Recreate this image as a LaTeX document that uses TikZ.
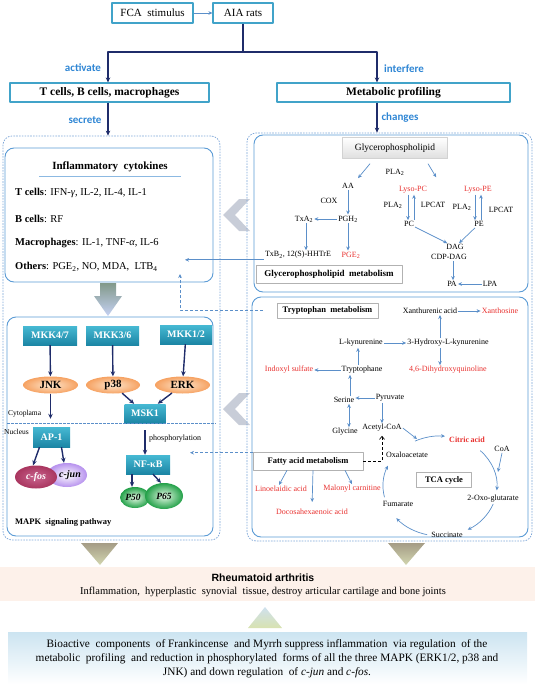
\documentclass[tikz,border=0pt]{standalone}
\usepackage{fontspec}
\setmainfont{Liberation Serif}
\newfontfamily\calfont{Carlito}
\newfontfamily\arialfont{Liberation Sans}
\usetikzlibrary{arrows.meta,shapes.geometric,calc}
\definecolor{boxblue}{HTML}{41A3C9}
\definecolor{navy}{HTML}{1F2C6A}
\definecolor{lineblue}{HTML}{5B8FC9}
\definecolor{panelblue}{HTML}{5B9BD5}
\definecolor{dashblue}{HTML}{7EA6D8}
\definecolor{labblue}{HTML}{2F86D4}
\definecolor{metred}{HTML}{E8312F}
\definecolor{kintop}{HTML}{46B9D3}
\definecolor{kinbot}{HTML}{1C86A5}
\definecolor{chevgray}{HTML}{C8CDD8}
\definecolor{orin}{HTML}{FDE5CC}
\definecolor{orout}{HTML}{F6A262}
\definecolor{fosin}{HTML}{C9638E}
\definecolor{fosout}{HTML}{A9365F}
\definecolor{junout}{HTML}{B792EE}
\definecolor{pin}{HTML}{E6FAE6}
\definecolor{pout}{HTML}{22A048}
\definecolor{arrtop}{HTML}{82998A}
\definecolor{arrbot}{HTML}{C6D2F4}
\definecolor{tritop}{HTML}{A59C86}
\definecolor{tribot}{HTML}{D2D6B0}
\definecolor{uptop}{HTML}{CFE1EE}
\definecolor{upbot}{HTML}{D8E2B0}
\definecolor{rafill}{HTML}{FDF1EA}
\definecolor{sumtop}{HTML}{CCE4F1}
\newcommand{\fsz}[1]{\fontsize{#1}{#1}\selectfont}
\tikzset{
  topbox/.style={draw=boxblue,line width=1.1pt,minimum height=20pt,inner sep=1pt,font=\fsz{11}},
  cellbox/.style={topbox,minimum height=19pt,font=\fsz{11.5}\bfseries},
  navyarr/.style={draw=navy,line width=1.4pt,-{Stealth[length=5pt,width=4.5pt]}},
  lbarr/.style={draw=lineblue,line width=.7pt,-{Stealth[length=4pt,width=3.6pt]}},
  steplab/.style={font=\calfont\bfseries\fsz{11},text=labblue,inner sep=0pt},
  outerpanel/.style={draw=dashblue,line width=.7pt,dash pattern=on 1.6pt off 1.2pt,rounded corners=9pt,inner sep=0pt},
  innerpanel/.style={draw=panelblue,line width=.9pt,rounded corners=9pt,inner sep=0pt},
  kinase/.style={top color=kintop,bottom color=kinbot,text=white,font=\fsz{10}\bfseries,minimum height=19pt,inner sep=0pt},
  mapk/.style={ellipse,inner color=orin,outer color=orout,font=\fsz{11}\bfseries,minimum width=55pt,minimum height=17pt,inner sep=0pt},
  met/.style={font=\fsz{8},inner sep=1pt},
  redmet/.style={met,text=metred},
  titlebox/.style={draw=gray!60,line width=.6pt,fill=white,font=\fsz{8.5}\bfseries,inner sep=0pt},
  flowdash/.style={draw=lineblue,line width=.7pt,dash pattern=on 3pt off 2pt,-{Stealth[length=4pt,width=3.6pt]}},
}
\begin{document}
\begin{tikzpicture}[x=1pt,y=-1pt,line join=round]
\useasboundingbox (0,0) rectangle (535,685);

% stimulus and first split
\node[topbox,minimum width=81pt] (fca) at (152.5,13) {FCA\ \ stimulus};
\node[topbox,minimum width=60pt] (aia) at (243,13) {AIA rats};
\draw[lbarr] (fca) -- (aia);
\coordinate (split) at (243,52);
\node[cellbox,minimum width=199pt] (cells) at (109.5,92.5) {T cells, B cells, macrophages};
\node[cellbox,minimum width=233pt] (profile) at (393.5,92.5) {Metabolic profiling};
\draw[navy,line width=1.4pt] (aia) -- (split);
\draw[navyarr] (split) -| ([xshift=-1.5pt]cells.north);
\draw[navyarr] (split) -| ([xshift=-16.5pt]profile.north);
\node[steplab] (activate) at (83,68) {activate};
\node[steplab] (interfere) at (404,69) {interfere};
\node[steplab] (secrete) at (85,120) {secrete};
\node[steplab] (changes) at (400,118) {changes};

\fill[chevgray] (250,199) -- (239,199) -- (223,215) -- (239,231) -- (250,231) -- (235,215) -- cycle;
\fill[chevgray] (250,393) -- (239,393) -- (223,409) -- (239,425) -- (250,425) -- (235,409) -- cycle;

\node[outerpanel,minimum width=217pt,minimum height=404pt] (leftpanel) at (111.5,338) {};
\node[outerpanel,minimum width=285pt,minimum height=408pt] (rightpanel) at (389.5,337) {};
\draw[navyarr] ([xshift=-1.5pt]cells.south) -- ([xshift=-1.5pt]cells.south |- leftpanel.north);
\draw[navyarr] ([xshift=-16.5pt]profile.south) -- ([xshift=-16.5pt]profile.south |- rightpanel.north);

% cytokines
\node[innerpanel,minimum width=208pt,minimum height=134pt] (cyto) at (109,215) {};
\node[font=\fsz{11}\bfseries,inner sep=1pt] (cytotitle) at (110,167) {Inflammatory\ \ cytokines};
\draw[panelblue!70,line width=1pt] ($(cytotitle.south west)+(-12,3)$) -- ($(cytotitle.south east)+(12,3)$);
\node[anchor=west,font=\fsz{10.5},inner sep=0pt] (tline) at (15,193) {\textbf{T cells}: IFN-\textit{γ}, IL-2, IL-4, IL-1};
\node[anchor=west,font=\fsz{10.5},inner sep=0pt] (bline) at (15,219) {\textbf{B cells}: RF};
\node[anchor=west,font=\fsz{10.5},inner sep=0pt] (mline) at (15,243) {\textbf{Macrophages}: IL-1, TNF-\textit{α}, IL-6};
\node[anchor=west,font=\fsz{10.5},inner sep=0pt] (oline) at (15,267) {\textbf{Others}: PGE\textsubscript{2}, NO, MDA,\ \ LTB\textsubscript{4}};
\shade[top color=arrtop,bottom color=arrbot] (100,283) -- (116,283) -- (116,296) -- (122,296) -- (108,316) -- (94,296) -- (100,296) -- cycle;

% MAPK
\node[innerpanel,minimum width=206pt,minimum height=219pt] (mapkbox) at (110,426.5) {};
\node[kinase,minimum width=54pt] (mkk47) at (50,335.5) {MKK4/7};
\node[kinase,minimum width=53pt] (mkk36) at (112.5,335.5) {MKK3/6};
\node[kinase,minimum width=52pt] (mkk12) at (186,334.5) {MKK1/2};
\node[mapk] (jnk) at (50.5,385) {JNK};
\node[mapk,minimum width=54pt] (p38) at (113,385) {p38};
\node[mapk] (erk) at (182.5,385) {ERK};
\node[kinase,minimum width=41pt] (msk) at (145,413.5) {MSK1};
\node[kinase,minimum width=37pt,minimum height=20pt] (ap1) at (51.5,437) {AP-1};
\node[kinase,minimum width=44pt] (nfkb) at (148,464.5) {NF-κB};
\draw[navyarr] (mkk47) -- (jnk);
\draw[navyarr] (mkk36) -- (p38);
\draw[navyarr] (mkk12) -- (erk);
\draw[navyarr] (p38) -- (msk);
\draw[navyarr] (erk) -- (msk);
\draw[navyarr,shorten >=8pt] (jnk) -- (jnk |- ap1.north);
\draw[navyarr,shorten <=7pt] (msk.south) -- (msk.south |- nfkb.north);
\coordinate (sepl) at (7,423);
\coordinate (sepr) at (216,423);
\draw[lineblue,line width=.7pt,dash pattern=on 2.5pt off 1.5pt] (sepl) -- (sepr);
\node[anchor=west,font=\fsz{7.5},inner sep=0pt] (cytoplama) at (8,414) {Cytoplama};
\node[anchor=west,font=\fsz{7.5},inner sep=0pt] (nucleus) at (4,432) {Nucleus};
\node[anchor=west,font=\fsz{8},inner sep=0pt] (phos) at (149,439) {phosphorylation};
\node[ellipse,inner color=white,outer color=junout,minimum width=40pt,minimum height=24pt,inner sep=0pt,font=\fsz{10}\bfseries\itshape] (cjun) at (67,475) {\hspace*{6pt}c-jun};
\node[ellipse,inner color=fosin,outer color=fosout,minimum width=42pt,minimum height=23pt,inner sep=0pt,text=white,font=\fsz{10}\bfseries\itshape] (cfos) at (36,477) {c-fos};
\draw[navyarr] ([xshift=-12pt]ap1.south) -- ([xshift=-3pt]cfos.north);
\draw[navyarr] ([xshift=10pt]ap1.south) -- ([xshift=-3pt]cjun.north);
\node[ellipse,inner color=pin,outer color=pout,minimum width=30pt,minimum height=21pt,inner sep=0pt,font=\fsz{9.5}\bfseries\itshape] (p50) at (135,497.5) {P50\hspace*{4pt}};
\node[ellipse,inner color=pin,outer color=pout,minimum width=38pt,minimum height=26pt,inner sep=0pt,font=\fsz{9.5}\bfseries\itshape] (p65) at (164,496) {P65};
\draw[navyarr] ([xshift=-16pt]nfkb.south) -- ([xshift=-3pt]p50.north);
\draw[navyarr] ([xshift=5pt]nfkb.south) -- ([xshift=-3pt]p65.north);
\node[anchor=west,font=\fsz{8.5}\bfseries,inner sep=0pt] (mapklab) at (15,522) {MAPK\ \ signaling pathway};

% glycerophospholipid
\node[innerpanel,minimum width=274pt,minimum height=157pt] (glybox) at (391,213.5) {};
\node[top color=white,bottom color=gray!25,draw=gray!35,minimum width=105pt,minimum height=21pt,inner sep=0pt,font=\fsz{9.5}] (glyhead) at (395,148) {Glycerophospholipid};
\node[met] (pla) at (395,172) {PLA\textsubscript{2}};
\node[met] (aa) at (348,186) {AA};
\node[met] (cox) at (329,201) {COX};
\node[met] (pgh) at (348,219) {PGH\textsubscript{2}};
\node[met] (txa) at (304,219) {TxA\textsubscript{2}};
\node[met] (txb) at (298,255) {TxB\textsubscript{2}, 12(S)-HHTrE};
\node[redmet] (pge) at (351,255) {PGE\textsubscript{2}};
\node[titlebox,minimum width=146pt,minimum height=18pt,font=\fsz{9}\bfseries] (glymet) at (329,274) {Glycerophospholipid\ \ metabolism};
\node[redmet] (lysopc) at (413,190) {Lyso-PC};
\node[redmet] (lysope) at (478,190) {Lyso-PE};
\draw[lbarr] ([xshift=-25pt,yshift=-5pt]glyhead.south) -- ([xshift=10pt,yshift=4pt]aa.north);
\draw[lbarr] ([xshift=33pt,yshift=-5pt]glyhead.south) -- ([xshift=8pt,yshift=8pt]lysopc.north east);
\draw[lbarr] (aa) -- (pgh);
\draw[lbarr] (pgh) -- (txa);
\draw[lbarr] ([xshift=2pt]txa.south) -- ([xshift=2pt]txa.south |- txb.north);
\draw[lbarr] (pgh.south) -- (pgh.south |- pge.north);
\coordinate (cytin2) at (185,0);
\draw[lbarr] (txb.south west) -- (txb.south west -| cytin2);
\node[met] (plaa) at (393,205) {PLA\textsubscript{2}};
\node[met] (lpcata) at (433,205) {LPCAT};
\node[met] (plab) at (462,207) {PLA\textsubscript{2}};
\node[met] (lpcatb) at (501,210) {LPCAT};
\node[met] (pc) at (409,224) {PC};
\node[met] (pe) at (479,224) {PE};
\draw[lbarr] ([xshift=-5pt]lysopc.south) -- ([xshift=-5pt]lysopc.south |- pc.north);
\draw[lbarr] ([xshift=1pt]lysopc.south |- pc.north) -- ([xshift=1pt]lysopc.south);
\draw[lbarr] ([xshift=-3pt]lysope.south) -- ([xshift=-3pt]lysope.south |- pe.north);
\draw[lbarr] ([xshift=3pt]lysope.south |- pe.north) -- ([xshift=3pt]lysope.south);
\node[met] (dag) at (455,247) {DAG};
\node[met] (cdp) at (449,257) {CDP-DAG};
\node[met] (pa) at (452,284) {PA};
\node[met] (lpa) at (490,284) {LPA};
\draw[lbarr] (pc) -- (dag);
\draw[lbarr] (pe) -- (dag);
\draw[lbarr] ([xshift=4pt]cdp.south) -- ([xshift=4pt]cdp.south |- pa.north);
\draw[lbarr] (lpa) -- (pa);

% tryptophan, fatty acids, TCA
\node[innerpanel,minimum width=276pt,minimum height=240pt] (trpbox) at (390,417) {};
\node[titlebox,minimum width=101pt,minimum height=15pt] (trptitle) at (327.5,310.5) {Tryptophan\ \ metabolism};
\coordinate (cytin) at (180,274);
\draw[flowdash,shorten <=14pt] (trptitle.west) -| (cytin);
\node[met] (xan) at (430,311) {Xanthurenic\,acid};
\node[redmet] (xanth) at (500,311) {Xanthosine};
\node[met] (lkyn) at (361,343) {L-kynurenine};
\node[met] (hkyn) at (448,343) {3-Hydroxy-L-kynurenine};
\node[redmet] (dhq) at (448,370) {4,6-Dihydroxyquinoline};
\node[met] (trp) at (362,370) {Tryptophane};
\node[redmet] (indox) at (289,370) {Indoxyl sulfate};
\draw[lbarr] (xan) -- (xanth);
\draw[lbarr] (lkyn) -- (hkyn);
\draw[lbarr] ([xshift=-8pt]hkyn.north) -- ([xshift=-8pt]hkyn.north |- xan.south);
\draw[lbarr] ([xshift=-8pt]hkyn.south) -- ([xshift=-8pt]hkyn.south |- dhq.north);
\draw[lbarr] ([xshift=-4pt]trp.north) -- ([xshift=-4pt]trp.north |- lkyn.south);
\draw[lbarr] (trp) -- (indox);
\node[met] (serine) at (344,400) {Serine};
\node[met] (pyr) at (390,398) {Pyruvate};
\node[met] (gly) at (345,432) {Glycine};
\node[met] (acoa) at (382,428) {Acetyl-CoA};
\draw[lbarr] ([xshift=6pt]serine.north) -- ([xshift=6pt]serine.north |- trp.south);
\draw[lbarr] (pyr.west) -- (pyr.west -| serine.east);
\draw[lbarr,{Stealth[length=4pt,width=3.6pt]}-{Stealth[length=4pt,width=3.6pt]}] ([xshift=5pt]serine.south) -- ([xshift=5pt]serine.south |- gly.north);
\draw[lbarr] ([xshift=-8pt]pyr.south) -- ([xshift=-8pt]pyr.south |- acoa.north);
\coordinate (tca) at (440,486);
\coordinate (tcain) at (417,439);
\draw[lbarr] (acoa.east) -- (tcain);
\node[titlebox,minimum width=110pt,minimum height=18pt] (fatbox) at (308,461) {Fatty acid metabolism};
\draw[line width=.7pt,dash pattern=on 3pt off 2pt,-{Straight Barb[length=3pt,width=5pt]}] (fatbox.east) -| ([yshift=-3pt]acoa.south);
\coordinate (mapkin) at (190,0);
\draw[flowdash] ([yshift=-1pt]fatbox.north west) -- ([yshift=-1pt]fatbox.north west -| mapkin);
\node[redmet] (linol) at (281,489) {Linoelaidic acid};
\node[redmet] (malonyl) at (352,489) {Malonyl carnitine};
\node[redmet] (docosa) at (312,512) {Docosahexaenoic acid};
\draw[lbarr] ([xshift=-21pt]fatbox.south) -- ([xshift=-2pt]linol.north);
\draw[lbarr,shorten >=6pt] ([xshift=5pt]fatbox.south) -- (docosa.north);
\draw[lbarr] ([xshift=37pt]fatbox.south) -- (malonyl.north);
\node[met,text=metred,font=\fsz{8}\bfseries] (citric) at (467,440) {Citric\,acid};
\node[met] (oxalo) at (407,455) {Oxaloacetate};
\node[met] (coa) at (502,449) {CoA};
\node[met] (oxoglu) at (493,499) {2-Oxo-glutarate};
\node[met] (succ) at (447,535) {Succinate};
\node[met] (fum) at (398,504) {Fumarate};
\node[titlebox,minimum width=55pt,minimum height=15pt] (tcabox) at (444,480) {TCA cycle};
\coordinate (coain) at (498,472);
\draw[lbarr] (coa.south) -- (coain);
\draw[lbarr] ($(tca)+(-116:57 and 50)$) arc[start angle=-116,end angle=-85,x radius=57,y radius=50];
\draw[lbarr] ($(tca)+(-45:57 and 50)$) arc[start angle=-45,end angle=5,x radius=57,y radius=50];
\draw[lbarr] ($(tca)+(21:57 and 50)$) arc[start angle=21,end angle=61,x radius=57,y radius=50];
\draw[lbarr] ($(tca)+(103:57 and 50)$) arc[start angle=103,end angle=140,x radius=57,y radius=50];
\draw[lbarr] ($(tca)+(167:57 and 50)$) arc[start angle=167,end angle=204,x radius=57,y radius=50];

% outcome
\shade[top color=tritop,bottom color=tribot] (81,543) -- (118,543) -- (100,565) -- cycle;
\shade[top color=tritop,bottom color=tribot] (388,543) -- (425,543) -- (406,565) -- cycle;
\fill[rafill] (0,567) rectangle (535,601);
\node[font=\arialfont\bfseries\fsz{10.5},inner sep=0pt] (ratitle) at (263,578) {Rheumatoid arthritis};
\node[font=\fsz{10.5},inner sep=0pt] (radesc) at (263,592) {Inflammation,\ \ hyperplastic\ \ synovial\ \ tissue, destroy articular cartilage and bone joints};
\shade[top color=uptop,bottom color=upbot] (248,628) -- (282,628) -- (265,607) -- cycle;
\shade[top color=sumtop,bottom color=white] (8,632) rectangle (527,684);
\node[font=\fontsize{11.3}{14}\selectfont,align=center,inner sep=0pt] (summary) at (267,659) {Bioactive\ \ components\ \ of Frankincense\ \ and Myrrh suppress inflammation\ \ via regulation\ \ of the\\ metabolic\ \ profiling\ \ and reduction in phosphorylated\ \ forms of all the three MAPK (ERK1/2, p38 and\\ JNK) and down regulation\ \ of \textit{c-jun} and \textit{c-fos}.};
\end{tikzpicture}
\end{document}
